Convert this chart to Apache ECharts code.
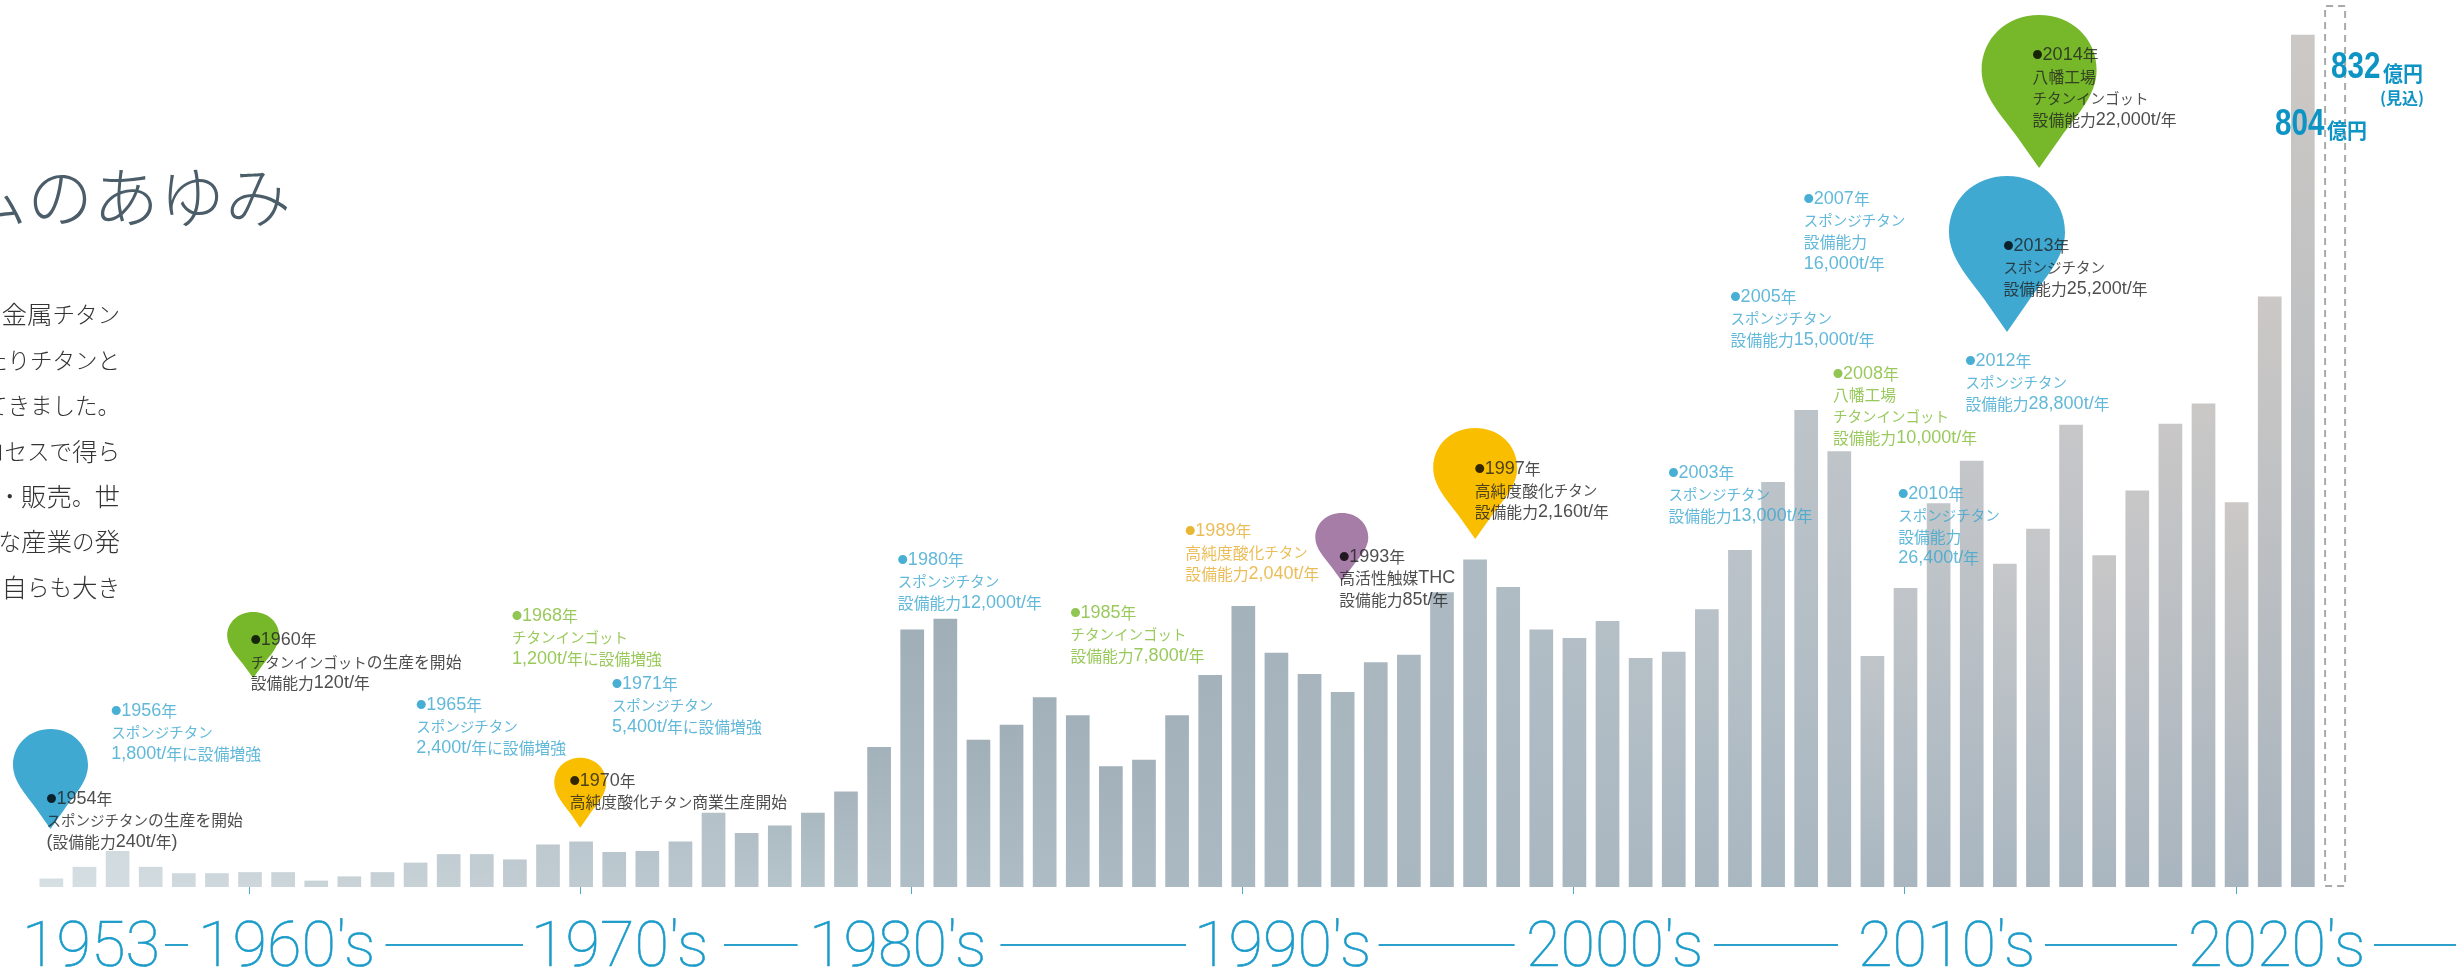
<!DOCTYPE html>
<html><head><meta charset="utf-8"><style>html,body{margin:0;padding:0;background:#fff;overflow:hidden}#c{width:2456px;height:973px}</style>
<script src="https://cdn.jsdelivr.net/npm/echarts@6/dist/echarts.min.js"></script></head>
<body><div id="c"></div><script>
const years=['1954','1955','1956','1957','1958','1959','1960','1961','1962','1963','1964','1965','1966','1967','1968','1969','1970','1971','1972','1973','1974','1975','1976','1977','1978','1979','1980','1981','1982','1983','1984','1985','1986','1987','1988','1989','1990','1991','1992','1993','1994','1995','1996','1997','1998','1999','2000','2001','2002','2003','2004','2005','2006','2007','2008','2009','2010','2011','2012','2013','2014','2015','2016','2017','2018','2019','2020','2021','2022','2023'];
const revenue=[8,19,34,19,13,13,14,14,6,10,14,23,31,31,26,40,43,33,34,43,70,51,58,70,90,132,243,253,139,153,179,162,114,120,162,200,265,221,201,184,212,219,278,309,283,243,235,251,216,222,262,318,382,450,411,218,282,362,402,305,338,436,313,374,437,456,363,557,804,null];
const forecast=[null,null,null,null,null,null,null,null,null,null,null,null,null,null,null,null,null,null,null,null,null,null,null,null,null,null,null,null,null,null,null,null,null,null,null,null,null,null,null,null,null,null,null,null,null,null,null,null,null,null,null,null,null,null,null,null,null,null,null,null,null,null,null,null,null,null,null,null,null,832];
const pinYears=['1954','1960','1970','1993','1997','2013','2014'];
const pinLevels=[54.7,197.2,55.9,288.7,328.3,523.5,678.2];
const noteYears=['1954','1956','1960','1965','1968','1970','1971','1980','1985','1989','1993','1997','2003','2005','2007','2008','2010','2012','2013','2014'];
const noteLevels=[83,166,232.3,171.7,255.6,100,191.5,308.5,258.5,335.3,311.3,393.9,390.5,555.9,648.7,483.9,370.7,495.5,604.7,784.2];
const noteTexts=[
['1954年','スポンジチタンの生産を開始','(設備能力240t/年)'],
['1956年','スポンジチタン','1,800t/年に設備増強'],
['1960年','チタンインゴットの生産を開始','設備能力120t/年'],
['1965年','スポンジチタン','2,400t/年に設備増強'],
['1968年','チタンインゴット','1,200t/年に設備増強'],
['1970年','高純度酸化チタン商業生産開始'],
['1971年','スポンジチタン','5,400t/年に設備増強'],
['1980年','スポンジチタン','設備能力12,000t/年'],
['1985年','チタンインゴット','設備能力7,800t/年'],
['1989年','高純度酸化チタン','設備能力2,040t/年'],
['1993年','高活性触媒THC','設備能力85t/年'],
['1997年','高純度酸化チタン','設備能力2,160t/年'],
['2003年','スポンジチタン','設備能力13,000t/年'],
['2005年','スポンジチタン','設備能力15,000t/年'],
['2007年','スポンジチタン','設備能力','16,000t/年'],
['2008年','八幡工場','チタンインゴット','設備能力10,000t/年'],
['2010年','スポンジチタン','設備能力','26,400t/年'],
['2012年','スポンジチタン','設備能力28,800t/年'],
['2013年','スポンジチタン','設備能力25,200t/年'],
['2014年','八幡工場','チタンインゴット','設備能力22,000t/年']];
const decadeLabels=['1953','1960\'s','1970\'s','1980\'s','1990\'s','2000\'s','2010\'s','2020\'s'];
const bodyLines=['金属チタン','たりチタンと','てきました。','ロセスで得ら','造・販売。世','な産業の発','、自らも大き'];

// ---- layout and style ----
const pinStyle={'1954':['#3fa9d2',75,100,0],'1960':['#76b82a',52,66,4],'1970':['#fabe00',52,70,0],'1993':['#a57da6',53,68,0],'1997':['#fabe00',84,111,1],'2013':['#3fa9d2',116,156,3],'2014':['#76b82a',115,153,2]};
const notePalette={b:['#1a9bc9','#3aa6cf'],g:['#76b82a','#7fbb32'],y:['#e3a400','#e6ad30'],k:['#000','#222']};
const noteColor=['k','b','k','b','g','k','b','b','g','y','k','k','b','b','b','g','b','b','k','k'];
const noteDx=[-3.5,-5,2,2,-1.5,-10,-1,-13,-6,-23.5,-2,1,-4,-8,-1,-5,-6,-5,0,-4];
const decadeX=[22,198,531,809,1194,1526,1858,2188];
const ruleX=[[165,188],[385.5,523],[724,797.6],[1000.4,1186],[1378.6,1514.6],[1714,1838],[2045,2177],[2374,2456]];
const bodyY=[314,360,405.7,451.7,496.7,541.7,587];
const pinPath='path://M50,133L31,106C18,88 0,70 0,48C0,20 22,0 50,0C78,0 100,20 100,48C100,70 82,88 69,106Z';
const JP='"Noto Sans CJK JP"';
const THIN='Roboto';
const shade=[[0,'#d6dfe2','#d4dde1'],[10,'#c8d2d7','#c5d0d5'],[20,'#b9c6cd','#b4c1c9'],[26,'#b0bfc7','#a0aeb7'],[36,'#aab8c1','#a4b2bb'],[45,'#a9b7c1','#b1bdc5'],[51,'#a9b7c1','#bbc3c9'],[60,'#a9b6c0','#c6c7c9'],[69,'#a9b4be','#cdc8c5']];
function hex(c){return [1,3,5].map(i=>parseInt(c.substr(i,2),16));}
function mix(a,b,t){const x=hex(a),y=hex(b);return 'rgb('+x.map((v,i)=>Math.round(v+(y[i]-v)*t)).join(',')+')';}
function barFill(i){let k=0;while(k<shade.length-2&&i>shade[k+1][0])k++;const s=shade[k],e=shade[k+1],t=(i-s[0])/(e[0]-s[0]);
 return {type:'linear',x:0,y:0,x2:0,y2:1,colorStops:[{offset:0,color:mix(s[2],e[2],t)},{offset:1,color:mix(s[1],e[1],t)}]};}
// proportional look: latin, katakana, hiragana and kanji get separate rich styles
function tag(s){return s.replace(/[\x20-\x7e]+|[ァ-ヶー]+|[ぁ-ん。、・]+|[^\x20-\x7eァ-ヶーぁ-ん。、・]+/g,m=>{
 const c=/^[\x20-\x7e]/.test(m)?'l':/^[ァ-ヶー]/.test(m)?'k':/^[ぁ-ん。、・]/.test(m)?'h':'t';return '{'+c+'|'+m+'}';});}
const numCol='#0d93c4';
const NUM='"Liberation Sans"';
const revData=revenue.map((v,i)=>v==null?null:{value:v,itemStyle:{color:barFill(i)}});
const fcData=forecast.map(v=>v==null?null:{value:v});
const graphic=[];
decadeLabels.forEach((t,i)=>graphic.push({type:'text',x:decadeX[i],y:950,z:5,style:{text:t,x:0,y:0,verticalAlign:'middle',font:'100 63px '+THIN,fill:'#1a9bc9',stroke:'#1a9bc9',lineWidth:0.6}}));
ruleX.forEach(r=>graphic.push({type:'rect',shape:{x:r[0],y:944,width:r[1]-r[0],height:2},z:5,style:{fill:'#2aa0cb'}}));
graphic.push({type:'text',z:5,style:{text:'チタニウムのあゆみ',x:291,y:197,align:'right',verticalAlign:'middle',font:'300 66px '+JP,fill:'#4a5d68'}});
const bs=(n)=>({fontFamily:JP,fontWeight:300,fontSize:n,fill:'#333'});
const bodyRich={k:bs(22.5),h:bs(22.5),t:bs(25.5),l:bs(22)};
bodyLines.forEach((t,i)=>graphic.push({type:'text',z:5,style:{text:tag(t),x:120,y:bodyY[i],align:'right',verticalAlign:'middle',rich:bodyRich,fill:'#333'}}));
[['804',2275,125],['832',2331,68]].forEach(a=>{
 graphic.push({type:'text',x:a[1],y:a[2],scaleX:0.8,z:6,style:{text:a[0],x:0,y:0,verticalAlign:'middle',font:'bold 37px '+NUM,fill:numCol}});
 graphic.push({type:'text',x:a[1]+52,y:a[2]+5,scaleX:0.95,z:6,style:{text:'億円',x:0,y:0,verticalAlign:'middle',font:'700 21px '+JP,fill:numCol}});});
graphic.push({type:'text',z:6,style:{text:'(見込)',x:2424,y:98,align:'right',verticalAlign:'middle',font:'700 16px '+JP,fill:numCol}});
const chart=echarts.init(document.getElementById('c'),null,{renderer:'canvas'});
chart.setOption({animation:false,backgroundColor:'#fff',
 grid:{left:33.95,top:5,width:2317.7,height:882},
 xAxis:{type:'category',data:years,offset:6,axisLine:{show:false},axisLabel:{show:false},
  axisTick:{show:true,alignWithLabel:true,length:7,lineStyle:{color:'#4aa8cc',width:1},interval:(i,v)=>+v%10===0}},
 yAxis:{type:'value',min:0,max:832,show:false,splitLine:{show:false}},
 graphic,
 series:[
 {type:'bar',name:'売上高',data:revData,barWidth:23.7,barGap:'-100%',z:2},
 {type:'bar',name:'見込',data:fcData,barWidth:22,barGap:'-100%',z:2,itemStyle:{color:'rgba(0,0,0,0)',borderColor:'#aaa',borderWidth:2,borderType:[7,5]}},
 {type:'scatter',name:'pins',z:3,silent:true,symbol:pinPath,
  data:pinYears.map((y,i)=>({value:[y,pinLevels[i]],symbolSize:[pinStyle[y][1],pinStyle[y][2]],symbolOffset:[pinStyle[y][3],'-50%'],itemStyle:{color:pinStyle[y][0],opacity:1}}))},
 {type:'scatter',name:'notes',z:4,silent:true,symbol:'circle',symbolSize:1,itemStyle:{color:'rgba(0,0,0,0)'},
  data:noteYears.map((y,i)=>{const p=notePalette[noteColor[i]];const L=noteTexts[i];
   const st=(f,n)=>({fontFamily:f,fontWeight:400,fontSize:n,color:p[1],lineHeight:21.5});
   return {value:[y,noteLevels[i]],label:{show:true,position:[noteDx[i],-10.5],align:'left',verticalAlign:'top',
    formatter:'{d|●}'+tag(L[0])+'\n'+L.slice(1).map(tag).join('\n'),
    rich:{d:{fontFamily:JP,fontSize:10,color:p[0],lineHeight:21.5},t:st(JP,15.8),h:st(JP,15.8),k:st(JP,14.5),l:st(NUM,18)}}};})}
 ]});
</script></body></html>
